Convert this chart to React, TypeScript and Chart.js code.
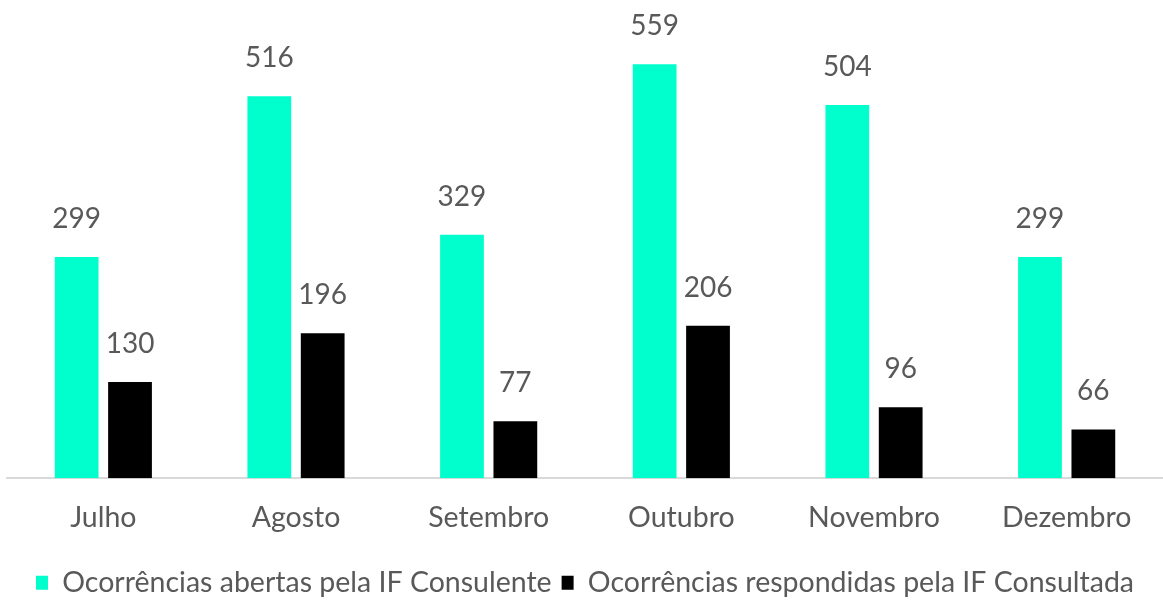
import React, { useEffect, useRef } from "react";
import { Chart, registerables } from "chart.js";

Chart.register(...registerables);

const categories = ["Julho", "Agosto", "Setembro", "Outubro", "Novembro", "Dezembro"];
const abertas = [299, 516, 329, 559, 504, 299];
const respondidas = [130, 196, 77, 206, 96, 66];
const seriesNames = ["Ocorrências abertas pela IF Consulente", "Ocorrências respondidas pela IF Consultada"];

const FONT = "Lato, 'Liberation Sans', sans-serif";
const TEXT = "#595959";
const SIZE = 28.5;

const valueLabels = {
  id: "valueLabels",
  afterDatasetsDraw(chart: any) {
    const ctx = chart.ctx;
    ctx.save();
    ctx.font = `28px ${FONT}`;
    ctx.fillStyle = TEXT;
    ctx.textAlign = "center";
    ctx.textBaseline = "middle";
    chart.data.datasets.forEach((ds: any, i: number) => {
      const meta = chart.getDatasetMeta(i);
      meta.data.forEach((el: any, j: number) => {
        ctx.fillText(String(ds.data[j]), el.x, el.y - 38);
      });
    });
    ctx.restore();
  },
};

export default function App() {
  const ref = useRef<HTMLCanvasElement>(null);
  useEffect(() => {
    if (!ref.current) return;
    const chart = new Chart(ref.current, {
      type: "bar",
      data: {
        labels: categories,
        datasets: [
          { label: seriesNames[0], data: abertas, backgroundColor: "#00FFCC", barPercentage: 0.82, categoryPercentage: 0.554 },
          { label: seriesNames[1], data: respondidas, backgroundColor: "#000000", barPercentage: 0.82, categoryPercentage: 0.554 },
        ],
      },
      options: {
        animation: false,
        responsive: false,
        maintainAspectRatio: false,
        layout: { padding: { top: 34, left: 7, right: 0, bottom: -7 } },
        plugins: {
          legend: {
            position: "bottom",
            labels: {
              boxWidth: 12,
              boxHeight: 14,
              padding: 10,
              color: TEXT,
              font: { family: FONT, size: SIZE },
            },
          },
          tooltip: { enabled: false },
        },
        scales: {
          x: {
            grid: { display: false },
            border: { display: true, color: "#d9d9d9", width: 2 },
            ticks: { color: TEXT, font: { family: FONT, size: SIZE }, padding: 14 },
            afterFit: (scale: any) => {
              scale.height += 10;
            },
          },
          y: { display: false, min: 0, max: 600 },
        },
      },
      plugins: [valueLabels],
    });
    return () => chart.destroy();
  }, []);
  return (
    <div style={{ position: "fixed", left: 0, top: 0, width: 1163, height: 600, background: "#fff" }}>
      <canvas ref={ref} width={1163} height={600} style={{ width: 1163, height: 600 }} />
    </div>
  );
}
